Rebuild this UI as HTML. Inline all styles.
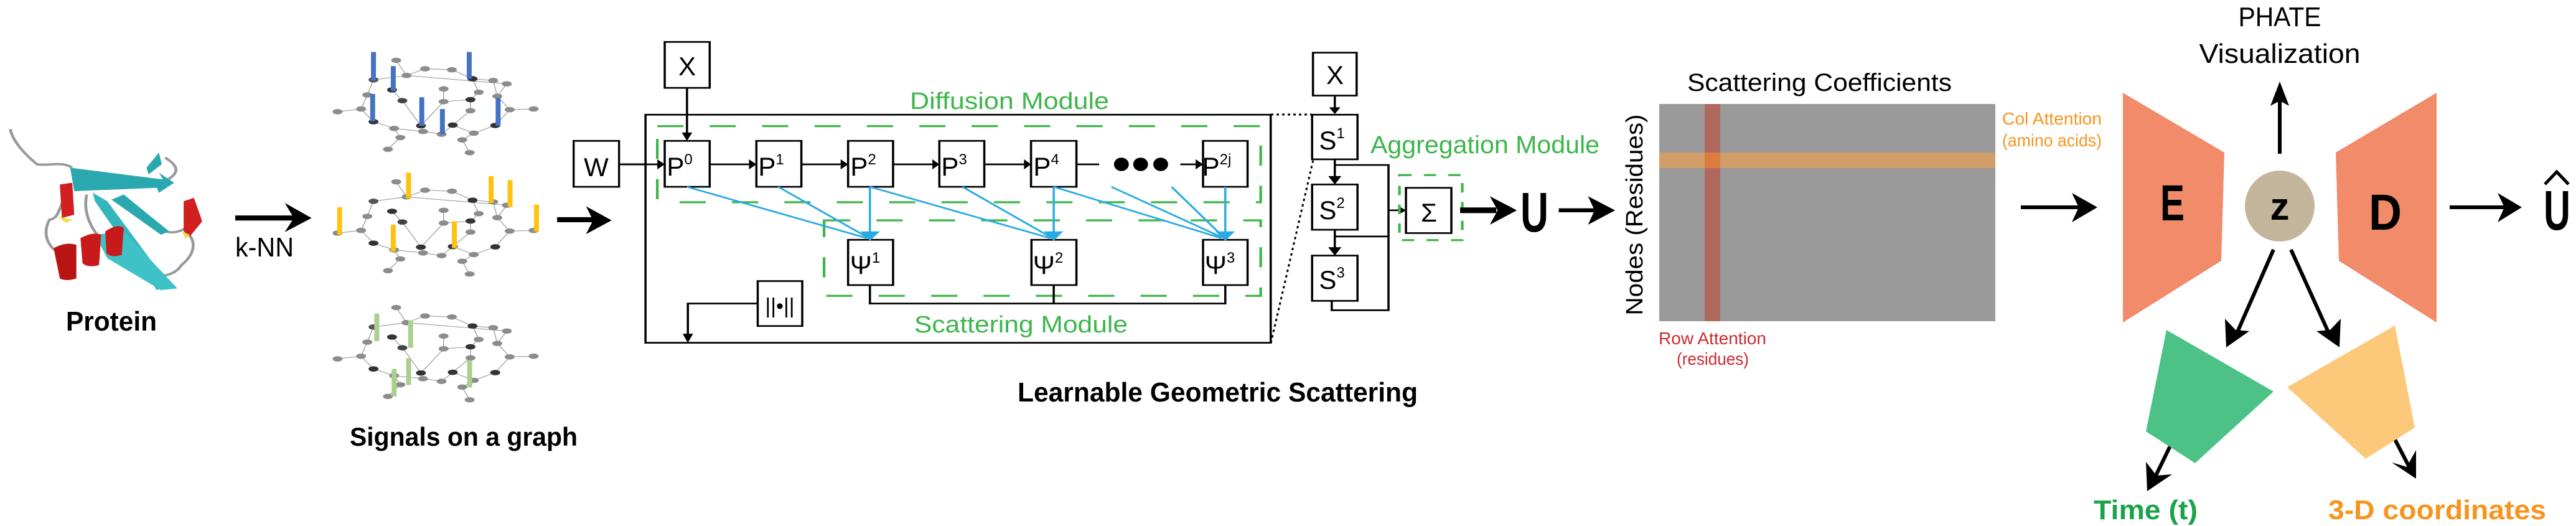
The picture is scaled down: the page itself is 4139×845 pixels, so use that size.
<!DOCTYPE html>
<html><head><meta charset="utf-8"><style>
html,body{margin:0;padding:0;background:#fff;}
svg{display:block;}
text{font-family:"Liberation Sans Narrow","Liberation Sans",sans-serif;}
</style></head><body>
<svg width="4139" height="845" viewBox="0 0 4139 845" xmlns="http://www.w3.org/2000/svg">
<defs>
<g id="graph">
<g fill="none" stroke="#9a9a9a" stroke-width="2">
<polyline points="875,325 890,283 905,238 985,225 1030,205 1095,208 1145,235 1195,240 1205,287 1235,327 1200,374 1148,397 1097,373 1070,400 1025,392 955,383 905,363 875,325"/>
<polyline points="818,333 875,325"/><polyline points="1235,327 1293,325"/>
<polyline points="955,383 970,410 940,445"/><polyline points="1148,397 1120,417 1138,455"/>
<polyline points="1075,265 1075,303 1020,375"/><polyline points="1075,303 1140,297 1140,330 1097,373"/>
<polyline points="1145,235 1160,275 1140,297"/><polyline points="950,268 975,300 1020,375"/>
<polyline points="960,180 985,225 1228,250 1205,287"/>
</g>
<g fill="#8c8c8c">
<ellipse cx="960" cy="180" rx="12" ry="8"/><ellipse cx="985" cy="225" rx="12" ry="8"/><ellipse cx="905" cy="238" rx="12" ry="8" fill="#555"/><ellipse cx="1030" cy="205" rx="12" ry="8"/><ellipse cx="1095" cy="208" rx="12" ry="8"/><ellipse cx="1145" cy="235" rx="12" ry="8" fill="#333"/><ellipse cx="1195" cy="240" rx="12" ry="8"/><ellipse cx="1228" cy="250" rx="12" ry="8"/><ellipse cx="1075" cy="265" rx="12" ry="8"/><ellipse cx="1160" cy="275" rx="12" ry="8"/><ellipse cx="1205" cy="287" rx="12" ry="8"/><ellipse cx="890" cy="283" rx="12" ry="8"/><ellipse cx="950" cy="268" rx="12" ry="8" fill="#333"/><ellipse cx="975" cy="300" rx="12" ry="8" fill="#444"/><ellipse cx="1075" cy="303" rx="12" ry="8"/><ellipse cx="1140" cy="297" rx="12" ry="8" fill="#333"/><ellipse cx="1140" cy="330" rx="12" ry="8"/><ellipse cx="1235" cy="327" rx="12" ry="8"/><ellipse cx="1293" cy="325" rx="12" ry="8"/><ellipse cx="818" cy="333" rx="12" ry="8"/><ellipse cx="875" cy="325" rx="12" ry="8"/><ellipse cx="905" cy="363" rx="12" ry="8" fill="#333"/><ellipse cx="1020" cy="375" rx="12" ry="8" fill="#333"/><ellipse cx="1097" cy="373" rx="12" ry="8" fill="#333"/><ellipse cx="1200" cy="374" rx="12" ry="8" fill="#333"/><ellipse cx="955" cy="383" rx="12" ry="8"/><ellipse cx="1025" cy="392" rx="12" ry="8"/><ellipse cx="1070" cy="400" rx="12" ry="8"/><ellipse cx="1148" cy="397" rx="12" ry="8"/><ellipse cx="970" cy="410" rx="12" ry="8"/><ellipse cx="1120" cy="417" rx="12" ry="8"/><ellipse cx="940" cy="445" rx="12" ry="8"/><ellipse cx="1138" cy="455" rx="12" ry="8"/>
</g>
</g>
</defs>

<!-- Section 1 (zoom1 coords) -->
<g transform="scale(0.6631,0.5388)">
  <!-- protein -->
  <path d="M25,385 C30,420 60,460 90,490 C120,495 150,480 175,500" fill="none" stroke="#999" stroke-width="7"/>
  <path d="M175,560 C140,600 150,650 120,655 C100,700 120,740 140,750 M400,470 C440,500 430,520 400,540 M210,580 C200,640 220,700 300,780 C360,840 420,830 440,790 C470,760 480,720 450,690 M400,690 C430,700 460,680 470,650" fill="none" stroke="#999" stroke-width="7"/>
  <polygon points="170,500 395,535 385,515 422,545 385,575 380,560 180,570" fill="#2aa8b0"/>
  <polygon points="355,500 385,455 392,490 360,520" fill="#2aa8b0"/>
  <polygon points="230,600 225,575 260,600 410,850 380,865" fill="#35b6bd"/>
  <polygon points="270,595 300,580 410,690 390,700" fill="#2aa8b0"/>
  <polygon points="230,700 300,690 430,860 390,865 260,770" fill="#3ec2c8"/>
  <path d="M145,550 L175,545 L180,640 L150,650 Z" fill="#d21f1f"/>
  <path d="M445,600 L470,590 L490,660 L460,705 L445,690 Z" fill="#d21f1f"/>
  <path d="M130,740 Q160,720 185,730 L185,830 Q160,840 145,830 Z" fill="#b81414"/>
  <path d="M195,710 Q225,690 245,700 L240,790 Q215,800 200,785 Z" fill="#c81a1a"/>
  <path d="M255,690 Q285,665 300,680 L295,760 Q270,770 258,755 Z" fill="#c81a1a"/>
  <path d="M140,645 L175,655 L160,665 Z M440,690 L460,700 L450,712 Z" fill="#e8e050"/>
  <!-- kNN arrow -->
  <line x1="570" y1="650" x2="720" y2="650" stroke="#000" stroke-width="15"/>
  <polygon points="690,605 755,650 690,692 712,650" fill="#000"/>
  <!-- graphs -->
  <use href="#graph"/>
  <use href="#graph" transform="translate(0,362)"/>
  <use href="#graph" transform="translate(0,737)"/>
  <g fill="#4472c4">
    <rect x="899" y="155" width="12" height="85"/><rect x="947" y="197" width="12" height="75"/><rect x="1131" y="155" width="12" height="80"/><rect x="897" y="280" width="12" height="82"/><rect x="1016" y="290" width="12" height="85"/><rect x="1066" y="325" width="12" height="75"/><rect x="1201" y="292" width="12" height="83"/>
  </g>
  <g fill="#ffc20e">
    <rect x="984" y="515" width="12" height="77"/><rect x="1184" y="525" width="12" height="80"/><rect x="1230" y="537" width="12" height="80"/><rect x="817" y="618" width="12" height="82"/><rect x="947" y="670" width="12" height="80"/><rect x="1095" y="660" width="12" height="80"/><rect x="1294" y="610" width="12" height="80"/>
  </g>
  <g fill="#a9d18e">
    <rect x="907" y="935" width="12" height="82"/><rect x="989" y="955" width="12" height="82"/><rect x="949" y="1100" width="12" height="82"/><rect x="984" y="1068" width="12" height="80"/><rect x="1132" y="1075" width="12" height="80"/>
  </g>
  <!-- arrow to W -->
  <line x1="1350" y1="655" x2="1445" y2="655" stroke="#000" stroke-width="15"/>
  <polygon points="1420,615 1482,657 1420,698 1437,657" fill="#000"/>
  <rect x="1390" y="420" width="110" height="137" fill="#fff" stroke="#000" stroke-width="5"/>
  <line x1="1500" y1="490" x2="1568" y2="490" stroke="#000" stroke-width="5"/>
</g>

<!-- Section 2 (zoom2 coords) -->
<g transform="translate(1000,0) scale(0.7015,0.5388)" fill="none" stroke="#000">
  <rect x="53" y="342" width="1432" height="680" stroke-width="5"/>
  <line x1="0" y1="490" x2="85" y2="490" stroke-width="5"/>
  <polygon points="80,475 97,490 80,505" fill="#000" stroke="none"/>
  <rect x="97" y="125" width="103" height="137" stroke-width="5" fill="#fff"/>
  <line x1="148" y1="262" x2="148" y2="405" stroke-width="5"/>
  <polygon points="136,395 148,420 160,395" fill="#000" stroke="none"/>
  <rect x="80" y="376" width="1382" height="227" stroke="#3cb64a" stroke-width="6" stroke-dasharray="60,60"/>
  <rect x="462" y="657" width="1000" height="225" stroke="#3cb64a" stroke-width="6" stroke-dasharray="60,60"/>
  <g stroke-width="5" fill="#fff">
    <rect x="97" y="420" width="103" height="137"/><rect x="307" y="420" width="103" height="137"/><rect x="517" y="420" width="103" height="137"/><rect x="726" y="420" width="103" height="137"/><rect x="936" y="420" width="104" height="137"/><rect x="1330" y="420" width="102" height="137"/>
    <rect x="517" y="715" width="103" height="135"/><rect x="937" y="715" width="103" height="135"/><rect x="1330" y="715" width="102" height="135"/>
    <rect x="310" y="838" width="102" height="134"/>
  </g>
  <g stroke-width="5">
    <line x1="200" y1="490" x2="290" y2="490"/><line x1="410" y1="490" x2="500" y2="490"/><line x1="620" y1="490" x2="710" y2="490"/><line x1="829" y1="490" x2="920" y2="490"/><line x1="1040" y1="490" x2="1092" y2="490"/><line x1="1278" y1="490" x2="1315" y2="490"/>
    <polyline points="567,850 567,905 1381,905 1381,850"/><line x1="988" y1="850" x2="988" y2="905"/>
    <polyline points="310,905 150,905 150,1005"/>
  </g>
  <g fill="#000" stroke="none">
    <polygon points="290,475 307,490 290,505"/><polygon points="500,475 517,490 500,505"/><polygon points="710,475 726,490 710,505"/><polygon points="920,475 936,490 920,505"/><polygon points="1313,475 1330,490 1313,505"/>
    <polygon points="138,995 150,1022 162,995"/>
    <ellipse cx="1143" cy="490" rx="17" ry="20"/><ellipse cx="1187" cy="490" rx="17" ry="20"/><ellipse cx="1233" cy="490" rx="17" ry="20"/>
  </g>
  <g stroke="#29abe2" stroke-width="5">
    <line x1="148" y1="557" x2="560" y2="710"/><line x1="357" y1="557" x2="562" y2="708"/><line x1="567" y1="557" x2="567" y2="700"/>
    <line x1="567" y1="557" x2="980" y2="710"/><line x1="779" y1="557" x2="982" y2="708"/><line x1="988" y1="557" x2="988" y2="700"/>
    <line x1="988" y1="557" x2="1372" y2="710"/><line x1="1120" y1="557" x2="1374" y2="708"/><line x1="1258" y1="557" x2="1376" y2="706"/><line x1="1381" y1="557" x2="1381" y2="700"/>
  </g>
  <g fill="#29abe2" stroke="none">
    <polygon points="545,690 590,690 567,718"/><polygon points="965,690 1010,690 988,718"/><polygon points="1358,690 1403,690 1381,718"/>
  </g>
</g>

<!-- dotted connectors -->
<g stroke="#000" stroke-width="3" stroke-dasharray="4,5" fill="none">
  <line x1="2042" y1="184" x2="2108" y2="184"/>
  <line x1="2042" y1="551" x2="2110" y2="257"/>
</g>

<!-- Section 3 (zoom3 coords) -->
<g transform="translate(2050,0) scale(0.7015,0.5388)" fill="none" stroke="#000">
  <g stroke-width="5" fill="#fff">
    <rect x="85" y="157" width="100" height="128"/><rect x="83" y="342" width="104" height="133"/><rect x="83" y="550" width="104" height="135"/><rect x="83" y="762" width="104" height="135"/><rect x="298" y="560" width="104" height="135"/>
  </g>
  <g stroke-width="5">
    <line x1="135" y1="285" x2="135" y2="325"/><line x1="135" y1="475" x2="135" y2="535"/><line x1="135" y1="685" x2="135" y2="747"/>
    <polyline points="135,492 258,492 258,925 128,925 128,897"/><line x1="135" y1="705" x2="258" y2="705"/>
    <line x1="258" y1="627" x2="285" y2="627"/>
  </g>
  <g fill="#000" stroke="none">
    <polygon points="122,320 135,340 148,320"/><polygon points="120,525 135,550 150,525"/><polygon points="120,737 135,762 150,737"/><polygon points="282,615 298,627 282,639"/>
  </g>
  <rect x="283" y="522" width="144" height="194" stroke="#3cb64a" stroke-width="6" stroke-dasharray="28,28"/>
  <line x1="422" y1="627" x2="505" y2="627" stroke-width="17"/>
  <polygon points="490,585 552,627 490,670 508,627" fill="#000" stroke="none"/>
  <line x1="648" y1="627" x2="735" y2="627" stroke-width="12"/>
  <polygon points="715,585 777,627 715,670 730,627" fill="#000" stroke="none"/>
</g>

<!-- matrix -->
<rect x="2666" y="167" width="540" height="349" fill="#9a9a9a"/>
<rect x="2739" y="167" width="25" height="349" fill="#b0695f"/>
<rect x="2666" y="245" width="540" height="25" fill="#d19d68"/>
<rect x="2739" y="245" width="25" height="25" fill="#dd7c40"/>

<!-- autoencoder -->
<g stroke="#000" stroke-width="6" fill="none">
  <line x1="3247" y1="333" x2="3350" y2="333"/>
  <line x1="3663" y1="247" x2="3663" y2="150"/>
  <line x1="3936" y1="333" x2="4035" y2="333"/>
  <line x1="3653" y1="401" x2="3592" y2="540"/>
  <line x1="3681" y1="401" x2="3744" y2="540"/>
  <line x1="3496" y1="698" x2="3460" y2="772"/>
  <line x1="3834" y1="679" x2="3872" y2="752"/>
</g>
<g fill="#000">
  <polygon points="3329,310 3370,333 3329,357 3340,333"/>
  <polygon points="3648,170 3663,131 3678,170 3663,162"/>
  <polygon points="4013,310 4052,333 4013,357 4024,333"/>
  <polygon points="3575,512 3577,558 3614,532 3592,530"/>
  <polygon points="3722,532 3759,558 3761,512 3744,530"/>
  <polygon points="3448,742 3450,789 3490,762 3465,764"/>
  <polygon points="3843,743 3882,769 3882,723 3867,750"/>
</g>
<polygon points="3411,149 3574,245 3569,419 3411,518" fill="#f28b69"/>
<polygon points="3753,245 3915,149 3915,518 3758,419" fill="#f28b69"/>
<ellipse cx="3663" cy="331" rx="56" ry="57" fill="#c4b59d"/>
<polygon points="3481,530 3653,629 3527,744 3448,693" fill="#4dc287"/>
<polygon points="3675,622 3848,523 3880,687 3801,737" fill="#fcc87a"/>
<polyline points="4089,296 4108,276 4127,296" fill="none" stroke="#000" stroke-width="5"/>

<!-- texts -->
<g fill="#000">
  <text x="106" y="531" font-size="44" font-weight="bold" textLength="146" lengthAdjust="spacingAndGlyphs">Protein</text>
  <text x="378" y="412" font-size="44" textLength="94" lengthAdjust="spacingAndGlyphs">k-NN</text>
  <text x="562" y="716" font-size="42" font-weight="bold" textLength="366" lengthAdjust="spacingAndGlyphs">Signals on a graph</text>
  <text x="958" y="283" font-size="42" text-anchor="middle">W</text>
  <text x="1104" y="121" font-size="42" text-anchor="middle">X</text>
  <g font-size="42">
    <text x="1092" y="282" text-anchor="middle">P<tspan font-size="24" dy="-18">0</tspan></text>
    <text x="1239" y="282" text-anchor="middle">P<tspan font-size="24" dy="-18">1</tspan></text>
    <text x="1387" y="282" text-anchor="middle">P<tspan font-size="24" dy="-18">2</tspan></text>
    <text x="1533" y="282" text-anchor="middle">P<tspan font-size="24" dy="-18">3</tspan></text>
    <text x="1681" y="282" text-anchor="middle">P<tspan font-size="24" dy="-18">4</tspan></text>
    <text x="1955" y="282" text-anchor="middle">P<tspan font-size="24" dy="-18">2j</tspan></text>
    <text x="1390" y="440" text-anchor="middle">Ψ<tspan font-size="24" dy="-18">1</tspan></text>
    <text x="1684" y="440" text-anchor="middle">Ψ<tspan font-size="24" dy="-18">2</tspan></text>
    <text x="1960" y="440" text-anchor="middle">Ψ<tspan font-size="24" dy="-18">3</tspan></text>
    <text x="2140" y="240" text-anchor="middle">S<tspan font-size="24" dy="-18">1</tspan></text>
    <text x="2140" y="352" text-anchor="middle">S<tspan font-size="24" dy="-18">2</tspan></text>
    <text x="2140" y="464" text-anchor="middle">S<tspan font-size="24" dy="-18">3</tspan></text>
    <text x="2145" y="135" text-anchor="middle">X</text>
    <text x="2296" y="356" text-anchor="middle">Σ</text>
  </g>
  <text x="1253" y="503" font-size="34" text-anchor="middle">||•||</text>
  <text x="1635" y="645" font-size="44" font-weight="bold" textLength="643" lengthAdjust="spacingAndGlyphs">Learnable Geometric Scattering</text>
  <text x="2443" y="372" font-size="90" font-weight="bold" textLength="45" lengthAdjust="spacingAndGlyphs">U</text>
  <text x="0" y="0" font-size="38" text-anchor="middle" textLength="323" lengthAdjust="spacingAndGlyphs" transform="translate(2639,345) rotate(-90)">Nodes (Residues)</text>
  <text x="2711" y="146" font-size="40" textLength="425" lengthAdjust="spacingAndGlyphs">Scattering Coefficients</text>
  <text x="3663" y="42" font-size="44" text-anchor="middle" textLength="133" lengthAdjust="spacingAndGlyphs">PHATE</text>
  <text x="3663" y="101" font-size="44" text-anchor="middle" textLength="259" lengthAdjust="spacingAndGlyphs">Visualization</text>
  <text x="3471" y="354" font-size="82" font-weight="bold" textLength="39" lengthAdjust="spacingAndGlyphs">E</text>
  <text x="3806" y="369" font-size="82" font-weight="bold" textLength="53" lengthAdjust="spacingAndGlyphs">D</text>
  <text x="3663" y="353" font-size="62" font-weight="bold" text-anchor="middle">z</text>
  <text x="4087" y="369" font-size="90" font-weight="bold" textLength="43" lengthAdjust="spacingAndGlyphs">U</text>
</g>
<text x="1462" y="175" font-size="38" fill="#3cb64a" textLength="320" lengthAdjust="spacingAndGlyphs">Diffusion Module</text>
<text x="1469" y="534" font-size="38" fill="#3cb64a" textLength="343" lengthAdjust="spacingAndGlyphs">Scattering Module</text>
<text x="2202" y="246" font-size="40" fill="#3cb64a" textLength="368" lengthAdjust="spacingAndGlyphs">Aggregation Module</text>
<text x="2665" y="553" font-size="28" fill="#d02a2e" textLength="173" lengthAdjust="spacingAndGlyphs">Row Attention</text>
<text x="2694" y="586" font-size="28" fill="#d02a2e" textLength="116" lengthAdjust="spacingAndGlyphs">(residues)</text>
<text x="3217" y="200" font-size="28" fill="#f7941d" textLength="160" lengthAdjust="spacingAndGlyphs">Col Attention</text>
<text x="3217" y="235" font-size="28" fill="#f7941d" textLength="160" lengthAdjust="spacingAndGlyphs">(amino acids)</text>
<text x="3364" y="834" font-size="44" font-weight="bold" fill="#1aa34a" textLength="167" lengthAdjust="spacingAndGlyphs">Time (t)</text>
<text x="3741" y="834" font-size="44" font-weight="bold" fill="#f7941d" textLength="350" lengthAdjust="spacingAndGlyphs">3-D coordinates</text>
</svg>
</body></html>
